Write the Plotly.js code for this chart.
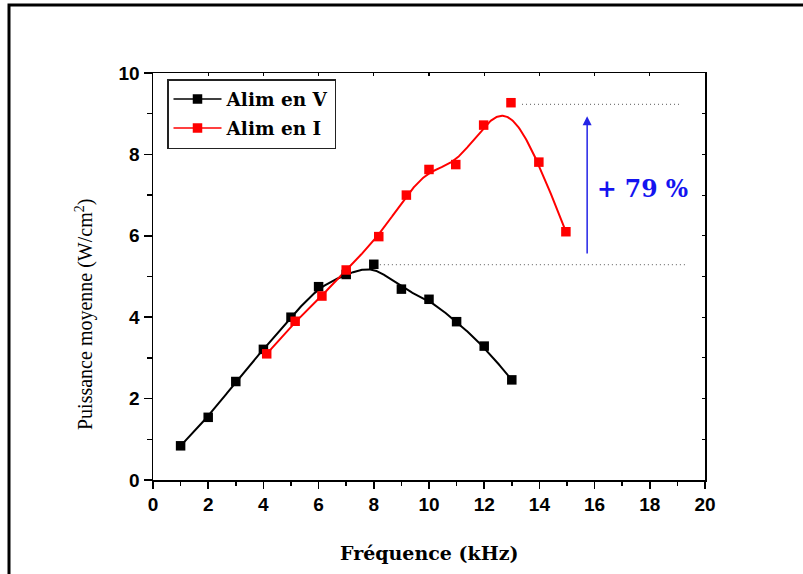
<!DOCTYPE html>
<html>
<head>
<meta charset="utf-8">
<script src="https://cdn.plot.ly/plotly-3.0.1.min.js"></script>
<style>
html,body{margin:0;padding:0;background:#fff;overflow:hidden;}
#chart{width:803px;height:574px;}
</style>
</head>
<body>
<div id="chart"></div>
<script>
// ---- Data ----
const seriesNames = ['Alim en V', 'Alim en I'];
const freqV  = [1, 2, 3, 4, 5, 6, 7, 8, 9, 10, 11, 12, 13];
const powerV = [0.84, 1.54, 2.42, 3.21, 4.00, 4.75, 5.05, 5.30, 4.69, 4.44, 3.89, 3.29, 2.46];
const freqI  = [4.12, 5.15, 6.12, 7.0, 8.18, 9.18, 10.0, 10.97, 11.98, 12.97, 13.98, 14.96];
const powerI = [3.10, 3.90, 4.52, 5.16, 5.98, 7.00, 7.63, 7.75, 8.72, 9.27, 7.81, 6.10];
// reference dotted lines (start / end frequency, level)
const refStart = [8.22, 13.37];
const refEnd   = [19.3, 19.1];
const refLevel = [5.29, 9.23];
// gain arrow
const arrowX = 15.73, arrowFrom = 5.53, arrowTo = 8.94;
const gainLabel = '+ 79 %';
const gainPos = [17.75, 7.15];
const xTicks = [0, 2, 4, 6, 8, 10, 12, 14, 16, 18, 20];
const yTicks = [0, 2, 4, 6, 8, 10];

// clamped uniform cubic B-spline using the data points as control points
function bspline(xs, ys, samples) {
  const n = xs.length, p = 3;
  const knots = [];
  for (let i = 0; i <= n + p; i++) {
    if (i <= p) knots.push(0);
    else if (i >= n) knots.push(n - p);
    else knots.push(i - p);
  }
  const tMax = n - p;
  const outX = [], outY = [];
  for (let s = 0; s <= samples; s++) {
    const t = tMax * s / samples;
    let k = p;
    while (k < n - 1 && !(t >= knots[k] && t < knots[k + 1])) k++;
    const dx = [], dy = [];
    for (let j = 0; j <= p; j++) { dx.push(xs[j + k - p]); dy.push(ys[j + k - p]); }
    for (let r = 1; r <= p; r++) {
      for (let j = p; j >= r; j--) {
        const den = knots[j + 1 + k - r] - knots[j + k - p];
        const a = den === 0 ? 0 : (t - knots[j + k - p]) / den;
        dx[j] = (1 - a) * dx[j - 1] + a * dx[j];
        dy[j] = (1 - a) * dy[j - 1] + a * dy[j];
      }
    }
    outX.push(dx[p]); outY.push(dy[p]);
  }
  return [outX, outY];
}

const colV = '#000000', colI = '#ff0000';
const [cvx, cvy] = bspline(freqV, powerV, 400);
const [cix, ciy] = bspline(freqI, powerI, 400);

const traces = [
  {x: cvx, y: cvy, mode: 'lines', line: {color: colV, width: 2}, showlegend: false, hoverinfo: 'skip'},
  {x: cix, y: ciy, mode: 'lines', line: {color: colI, width: 2}, showlegend: false, hoverinfo: 'skip'},
  {x: freqV, y: powerV, mode: 'markers', marker: {symbol: 'square', size: 9.5, color: colV}, showlegend: false},
  {x: freqI, y: powerI, mode: 'markers', marker: {symbol: 'square', size: 9.5, color: colI}, showlegend: false},
  {x: [null], y: [null], mode: 'lines+markers', name: seriesNames[0], legendgroup: 'a',
   line: {color: colV, width: 1.5}, marker: {symbol: 'square', size: 9.5, color: colV}},
  {x: [null], y: [null], mode: 'lines+markers', name: seriesNames[1], legendgroup: 'b',
   line: {color: colI, width: 1.5}, marker: {symbol: 'square', size: 9.5, color: colI}}
];
for (let i = 0; i < refLevel.length; i++) {
  traces.push({x: [refStart[i], refEnd[i]], y: [refLevel[i], refLevel[i]], mode: 'lines',
    line: {color: '#7a7a7a', width: 1.2, dash: '1px,3px'}, showlegend: false, hoverinfo: 'skip'});
}
traces.push({x: [null], y: [null], xaxis: 'x2', yaxis: 'y2', showlegend: false, hoverinfo: 'skip'});

const tickFont = {family: 'Liberation Sans, Arial, sans-serif', size: 19, weight: 'bold', color: '#000'};
const L = 153, R = 98, T = 73, B = 94, W = 803, H = 574;
const pw = W - L - R, ph = H - T - B;
const px2x = p => (p - L) / pw;
const py2y = p => (H - B - p) / ph;

const layout = {
  width: W, height: H,
  margin: {l: L, r: R, t: T, b: B, pad: 0},
  paper_bgcolor: '#fff', plot_bgcolor: '#fff',
  showlegend: true,
  xaxis: {
    range: [0, 20], tickvals: xTicks, ticktext: xTicks.map(String),
    ticks: 'outside', ticklen: 7, tickwidth: 1.5, tickcolor: '#000',
    minor: {dtick: 1, tick0: 0, ticks: 'outside', ticklen: 4, tickwidth: 1.5, tickcolor: '#000'},
    showline: true, linecolor: '#000', linewidth: 1.5, mirror: true,
    showgrid: false, zeroline: false, tickfont: tickFont
  },
  yaxis: {
    range: [0, 10], tickvals: yTicks, ticktext: yTicks.map(String),
    ticks: 'outside', ticklen: 8, tickwidth: 1.5, tickcolor: '#000',
    minor: {dtick: 1, tick0: 0, ticks: 'outside', ticklen: 5, tickwidth: 1.5, tickcolor: '#000'},
    showline: true, linecolor: '#000', linewidth: 1.5, mirror: true,
    showgrid: false, zeroline: false, tickfont: tickFont
  },
  xaxis2: {overlaying: 'x', side: 'top', anchor: 'y', range: [0, 20], dtick: 2, tick0: 0,
    ticks: 'inside', ticklen: 3, tickwidth: 1.2, tickcolor: '#000', showticklabels: false,
    showline: false, showgrid: false, zeroline: false},
  yaxis2: {overlaying: 'y', side: 'right', anchor: 'x', range: [0, 10], dtick: 1, tick0: 0,
    ticks: 'inside', ticklen: 3, tickwidth: 1.2, tickcolor: '#000', showticklabels: false,
    showline: false, showgrid: false, zeroline: false},
  legend: {
    x: px2x(167), y: py2y(79), xanchor: 'left', yanchor: 'top',
    bgcolor: '#fff', bordercolor: '#222', borderwidth: 1.5,
    font: {family: 'DejaVu Serif, serif', size: 18.5, weight: 'bold', color: '#000'},
    itemwidth: 48, tracegroupgap: 2, traceorder: 'grouped'
  },
  annotations: [
    {x: 0.5, y: py2y(553), xref: 'paper', yref: 'paper', xanchor: 'center', yanchor: 'middle', showarrow: false,
     text: 'Fréquence (kHz)', font: {family: 'DejaVu Serif, serif', size: 19, weight: 'bold', color: '#000'}},
    {x: px2x(84), y: py2y(315), xref: 'paper', yref: 'paper', xanchor: 'center', yanchor: 'middle',
     showarrow: false, textangle: -90,
     text: 'Puissance moyenne (W/cm<sup>2</sup>)', font: {family: 'Liberation Serif, Times New Roman, serif', size: 20, color: '#000'}},
    {x: arrowX, y: arrowTo, ax: arrowX, ay: arrowFrom, xref: 'x', yref: 'y', axref: 'x', ayref: 'y',
     text: '', showarrow: true, arrowhead: 2, arrowsize: 1.2, arrowwidth: 1.5, arrowcolor: '#2424e6'},
    {x: gainPos[0], y: gainPos[1], xref: 'x', yref: 'y', xanchor: 'center', yanchor: 'middle', showarrow: false, text: gainLabel,
     font: {family: 'DejaVu Serif, serif', size: 23.5, weight: 'bold', color: '#1414f0'}}
  ],
  shapes: [
    {type: 'rect', xref: 'paper', yref: 'paper', x0: px2x(9), x1: px2x(830), y0: py2y(600), y1: py2y(5),
     line: {color: '#000', width: 3}, fillcolor: 'rgba(0,0,0,0)', layer: 'above'}
  ]
};

Plotly.newPlot('chart', traces, layout, {staticPlot: true, displayModeBar: false});
</script>
</body>
</html>
